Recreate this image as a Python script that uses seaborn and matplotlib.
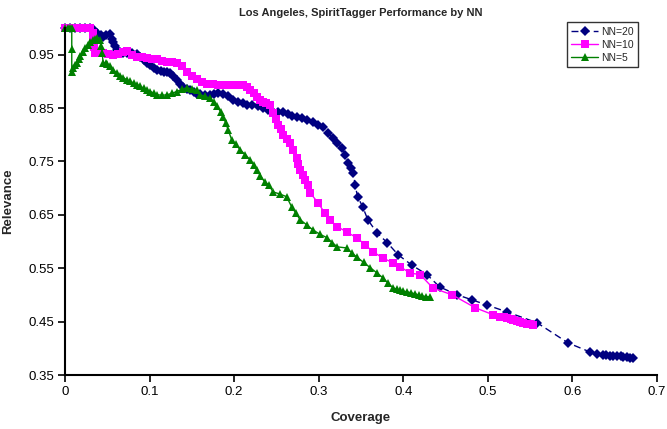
import matplotlib
matplotlib.use("Agg")
import matplotlib.pyplot as plt
import pandas as pd
import seaborn as sns
from matplotlib.ticker import FuncFormatter

# Values (coverage on x, relevance on y)
nn20_coverage = [
    0.000, 0.006, 0.012, 0.018, 0.024, 0.030, 0.034, 0.038, 0.042, 0.045,
    0.049, 0.053, 0.055, 0.057, 0.059, 0.061, 0.065, 0.069, 0.073, 0.079,
    0.085, 0.089, 0.093, 0.097, 0.101, 0.105, 0.109, 0.113, 0.117, 0.121,
    0.124, 0.128, 0.132, 0.136, 0.140, 0.144, 0.148, 0.152, 0.156, 0.160,
    0.165, 0.171, 0.176, 0.181, 0.187, 0.193, 0.199, 0.204, 0.210, 0.215,
    0.221, 0.228, 0.234, 0.240, 0.246, 0.252, 0.258, 0.264, 0.269, 0.274,
    0.280, 0.286, 0.293, 0.299, 0.305, 0.311, 0.317, 0.322, 0.328, 0.331,
    0.335, 0.338, 0.341, 0.343, 0.346, 0.352, 0.358, 0.369, 0.381, 0.394,
    0.410, 0.428, 0.443, 0.464, 0.481, 0.499, 0.523, 0.558, 0.595, 0.621,
    0.629, 0.636, 0.640, 0.644, 0.648, 0.653, 0.657, 0.660, 0.664, 0.668,
    0.672,
]
nn20_relevance = [
    1.000, 1.000, 1.000, 1.000, 1.000, 1.000, 0.996, 0.991, 0.986, 0.984,
    0.986, 0.988, 0.980, 0.973, 0.966, 0.959, 0.955, 0.954, 0.954, 0.953,
    0.952, 0.946, 0.940, 0.935, 0.931, 0.926, 0.922, 0.920, 0.918, 0.917,
    0.916, 0.910, 0.903, 0.896, 0.890, 0.885, 0.883, 0.880, 0.877, 0.876,
    0.875, 0.875, 0.877, 0.878, 0.877, 0.872, 0.866, 0.862, 0.859, 0.856,
    0.855, 0.853, 0.851, 0.847, 0.843, 0.843, 0.843, 0.839, 0.836, 0.834,
    0.831, 0.828, 0.823, 0.819, 0.815, 0.804, 0.794, 0.785, 0.776, 0.763,
    0.748, 0.738, 0.729, 0.706, 0.684, 0.665, 0.641, 0.616, 0.598, 0.575,
    0.556, 0.538, 0.515, 0.500, 0.491, 0.481, 0.468, 0.448, 0.410, 0.393,
    0.389, 0.388, 0.387, 0.386, 0.386, 0.386, 0.385, 0.384, 0.383, 0.382,
    0.382,
]

nn10_coverage = [
    0.000, 0.005, 0.010, 0.015, 0.020, 0.025, 0.030, 0.033, 0.033, 0.034,
    0.035, 0.040, 0.045, 0.051, 0.057, 0.063, 0.068, 0.073, 0.079, 0.085,
    0.091, 0.097, 0.103, 0.109, 0.115, 0.121, 0.127, 0.132, 0.138, 0.144,
    0.150, 0.156, 0.162, 0.168, 0.175, 0.181, 0.187, 0.193, 0.199, 0.205,
    0.210, 0.215, 0.219, 0.223, 0.227, 0.231, 0.234, 0.238, 0.242, 0.246,
    0.249, 0.252, 0.255, 0.258, 0.262, 0.266, 0.270, 0.274, 0.276, 0.278,
    0.281, 0.284, 0.287, 0.290, 0.299, 0.307, 0.313, 0.322, 0.333, 0.345,
    0.355, 0.364, 0.376, 0.388, 0.396, 0.408, 0.420, 0.435, 0.458, 0.485,
    0.506, 0.514, 0.519, 0.523, 0.527, 0.530, 0.534, 0.538, 0.542, 0.546,
    0.550, 0.553,
]
nn10_relevance = [
    1.000, 1.000, 1.000, 1.000, 1.000, 1.000, 1.000, 0.991, 0.975, 0.965,
    0.954, 0.954, 0.954, 0.952, 0.950, 0.952, 0.955, 0.956, 0.950, 0.946,
    0.945, 0.944, 0.942, 0.941, 0.939, 0.937, 0.936, 0.935, 0.928, 0.918,
    0.910, 0.904, 0.899, 0.896, 0.895, 0.894, 0.894, 0.894, 0.894, 0.894,
    0.893, 0.889, 0.884, 0.878, 0.871, 0.866, 0.862, 0.859, 0.856, 0.841,
    0.830, 0.819, 0.810, 0.800, 0.792, 0.785, 0.772, 0.757, 0.745, 0.734,
    0.725, 0.716, 0.706, 0.691, 0.673, 0.654, 0.641, 0.628, 0.618, 0.607,
    0.594, 0.581, 0.569, 0.560, 0.553, 0.541, 0.538, 0.513, 0.500, 0.476,
    0.463, 0.459, 0.458, 0.457, 0.455, 0.453, 0.451, 0.449, 0.448, 0.446,
    0.445, 0.444,
]

nn5_coverage = [
    0.000, 0.003, 0.006, 0.008, 0.008, 0.008, 0.010, 0.012, 0.014, 0.016,
    0.018, 0.021, 0.024, 0.027, 0.030, 0.033, 0.036, 0.038, 0.041, 0.043,
    0.044, 0.045, 0.048, 0.050, 0.053, 0.057, 0.061, 0.065, 0.069, 0.073,
    0.077, 0.081, 0.085, 0.089, 0.093, 0.097, 0.101, 0.105, 0.109, 0.115,
    0.121, 0.127, 0.132, 0.138, 0.144, 0.150, 0.156, 0.160, 0.165, 0.171,
    0.176, 0.180, 0.184, 0.187, 0.190, 0.193, 0.197, 0.202, 0.207, 0.213,
    0.219, 0.223, 0.227, 0.231, 0.236, 0.241, 0.246, 0.254, 0.262, 0.268,
    0.273, 0.278, 0.286, 0.293, 0.301, 0.310, 0.316, 0.322, 0.333, 0.339,
    0.345, 0.353, 0.361, 0.369, 0.376, 0.382, 0.388, 0.392, 0.396, 0.400,
    0.404, 0.409, 0.414, 0.418, 0.422, 0.427, 0.432,
]
nn5_relevance = [
    1.000, 1.000, 1.000, 1.000, 0.960, 0.918, 0.925, 0.930, 0.935, 0.941,
    0.948, 0.955, 0.962, 0.968, 0.974, 0.977, 0.980, 0.982, 0.978, 0.966,
    0.954, 0.935, 0.934, 0.933, 0.928, 0.922, 0.916, 0.911, 0.907, 0.903,
    0.900, 0.897, 0.894, 0.891, 0.887, 0.884, 0.881, 0.878, 0.875, 0.874,
    0.875, 0.878, 0.881, 0.885, 0.888, 0.886, 0.884, 0.875, 0.872, 0.869,
    0.861, 0.853, 0.843, 0.834, 0.822, 0.809, 0.791, 0.782, 0.772, 0.763,
    0.753, 0.744, 0.734, 0.723, 0.712, 0.706, 0.693, 0.689, 0.684, 0.665,
    0.653, 0.641, 0.631, 0.622, 0.614, 0.607, 0.598, 0.590, 0.588, 0.579,
    0.571, 0.561, 0.551, 0.541, 0.532, 0.522, 0.513, 0.511, 0.509, 0.507,
    0.506, 0.504, 0.502, 0.500, 0.498, 0.497, 0.496,
]

series_names = ["NN=20", "NN=10", "NN=5"]
series_colors = ["#000080", "#FF00FF", "#008000"]
series_markers = ["D", "s", "^"]
x_ticks = [0, 0.1, 0.2, 0.3, 0.4, 0.5, 0.6, 0.7]
y_ticks = [0.35, 0.45, 0.55, 0.65, 0.75, 0.85, 0.95]

frames = []
for name, cov, rel in zip(
    series_names,
    [nn20_coverage, nn10_coverage, nn5_coverage],
    [nn20_relevance, nn10_relevance, nn5_relevance],
):
    frames.append(pd.DataFrame({"Coverage": cov, "Relevance": rel, "series": name}))
df = pd.concat(frames, ignore_index=True)

sns.set_theme(style="ticks")
plt.rcParams["font.family"] = ["Liberation Sans", "DejaVu Sans"]

fig, ax = plt.subplots(figsize=(6.67, 4.29), dpi=100)
fig.subplots_adjust(left=65 / 667, right=657 / 667, bottom=54 / 429, top=401 / 429)

sns.lineplot(
    data=df,
    x="Coverage",
    y="Relevance",
    hue="series",
    style="series",
    hue_order=series_names,
    style_order=series_names,
    palette=dict(zip(series_names, series_colors)),
    markers=dict(zip(series_names, series_markers)),
    dashes={"NN=20": (5, 3), "NN=10": "", "NN=5": ""},
    markersize=6,
    markeredgewidth=0,
    linewidth=1,
    sort=False,
    estimator=None,
    ax=ax,
)

# diamonds look a bit smaller than the squares/triangles in the original
for line in ax.get_lines():
    line.set_clip_on(False)
    if line.get_marker() == "D":
        line.set_markersize(5)

ax.set_xlim(0, 0.7)
ax.set_ylim(0.35, 1.0)
ax.set_xticks(x_ticks)
ax.set_yticks(y_ticks)
ax.xaxis.set_major_formatter(FuncFormatter(lambda v, _: f"{v:g}"))
ax.yaxis.set_major_formatter(FuncFormatter(lambda v, _: f"{v:.2f}"))
ax.tick_params(direction="out", length=5, width=1.2, labelsize=9.5,
               color="black", labelcolor="black", pad=3)

sns.despine(ax=ax)
for side in ["left", "bottom"]:
    ax.spines[side].set_color("black")
    ax.spines[side].set_linewidth(1.5)

ax.set_xlabel("Coverage", fontsize=9.5, fontweight="bold", labelpad=10)
ax.set_ylabel("Relevance", fontsize=9.5, fontweight="bold", labelpad=10)
ax.set_title("Los Angeles, SpiritTagger Performance by NN",
             fontsize=8, fontweight="bold", pad=9)

handles, labels = ax.get_legend_handles_labels()
leg = ax.legend(
    handles, labels,
    loc="upper right",
    bbox_to_anchor=(0.972, 1.022),
    frameon=True,
    fancybox=False,
    edgecolor="black",
    fontsize=7.5,
    handlelength=2.6,
    handletextpad=0.3,
    borderpad=0.4,
    borderaxespad=0.2,
    labelspacing=0.3,
)
leg.get_frame().set_linewidth(1)

fig.savefig("out.png", dpi=100)
